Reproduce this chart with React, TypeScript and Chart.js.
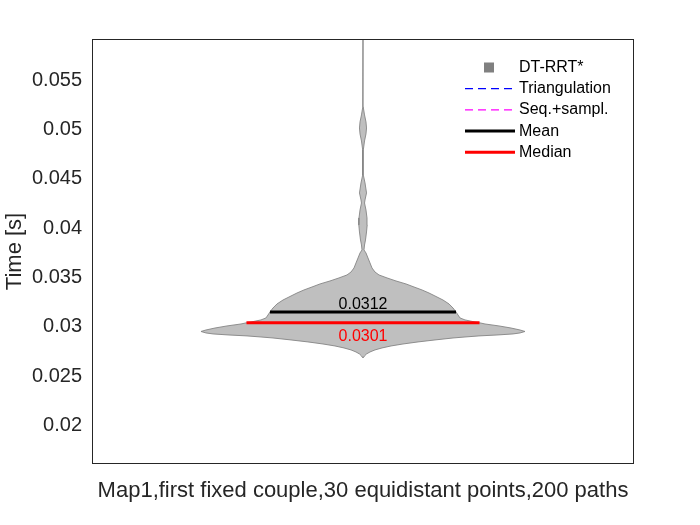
import React, { useEffect, useRef } from 'react';
import { Chart, registerables } from 'chart.js';

Chart.register(...registerables);

const FONT = "'Liberation Sans', Arial, Helvetica, sans-serif";

// Violin profile (time value, half-width in x units), from top to bottom
const violinTimes = [
  0.0595, 0.05199, 0.05118, 0.05047, 0.04986, 0.04925, 0.04854, 0.04763,
  0.04509, 0.04428, 0.04327, 0.04256, 0.04225, 0.04154, 0.04073, 0.04002,
  0.03931, 0.0385, 0.03799, 0.03749, 0.03718, 0.03667, 0.03617, 0.03566,
  0.03525, 0.03495, 0.03465, 0.03434, 0.03404, 0.03373, 0.03343, 0.03312,
  0.03282, 0.03241, 0.03201, 0.0316, 0.0312, 0.03089, 0.03059, 0.03039,
  0.03018, 0.0301, 0.02998, 0.02978, 0.02957, 0.02937, 0.02922, 0.02907,
  0.02897, 0.02887, 0.02877, 0.02866, 0.02856, 0.02836, 0.02816, 0.02795,
  0.02775, 0.02755, 0.02735, 0.02714, 0.02694, 0.02674, 0.02653,
];
const violinHalfWidths = [
  0, 0.0004, 0.0028, 0.0055, 0.0065, 0.0055, 0.0028, 0.0006,
  0.0006, 0.0037, 0.0065, 0.0037, 0.0028, 0.0055, 0.0074, 0.0077,
  0.0065, 0.0046, 0.0028, 0.0018, 0.0055, 0.0092, 0.0129, 0.0166,
  0.0221, 0.0295, 0.0443, 0.0609, 0.0793, 0.0941, 0.1089, 0.1218,
  0.1328, 0.1476, 0.1587, 0.1661, 0.1716, 0.1753, 0.179, 0.1882,
  0.2066, 0.215, 0.2251, 0.2509, 0.2731, 0.2897, 0.2989, 0.2897,
  0.2768, 0.2491, 0.214, 0.1882, 0.1661, 0.1328, 0.1015, 0.0738,
  0.0517, 0.0351, 0.0221, 0.0129, 0.0065, 0.0028, 0,
];
const violinCenter = 1;

const meanValue = 0.0312;
const meanHalfWidth = 0.1716;
const meanLabel = '0.0312';
const medianValue = 0.0301;
const medianHalfWidth = 0.215;
const medianLabel = '0.0301';

const yTickValues = [0.02, 0.025, 0.03, 0.035, 0.04, 0.045, 0.05, 0.055];
const yTickLabels = ['0.02', '0.025', '0.03', '0.035', '0.04', '0.045', '0.05', '0.055'];
const yMin = 0.01578;
const yMax = 0.05888;
const xMin = 0.5;
const xMax = 1.5;

const xTitle = 'Map1,first fixed couple,30 equidistant points,200 paths';
const yTitle = 'Time [s]';

const legendLabels = ['DT-RRT*', 'Triangulation', 'Seq.+sampl.', 'Mean', 'Median'];
const legendColors = ['#808080', '#0000FF', '#FF00FF', '#000000', '#FF0000'];
const legendKinds = ['marker', 'dashed', 'dashed', 'solid', 'solid'];

const bgPlugin = {
  id: 'bg',
  beforeDraw(chart: any) {
    const { ctx, width, height } = chart;
    ctx.save();
    ctx.fillStyle = '#ffffff';
    ctx.fillRect(0, 0, width, height);
    ctx.restore();
  },
};

const boxPlugin = {
  id: 'box',
  afterDatasetsDraw(chart: any) {
    const { ctx, chartArea } = chart;
    const { left, top, right, bottom } = chartArea;
    ctx.save();
    ctx.strokeStyle = '#262626';
    ctx.lineWidth = 1;
    ctx.strokeRect(Math.round(left) + 0.5, Math.round(top) + 0.5, Math.round(right - left) - 1, Math.round(bottom - top) - 1);
    ctx.restore();
  },
};

const statLabelPlugin = {
  id: 'statLabels',
  afterDatasetsDraw(chart: any) {
    const { ctx } = chart;
    const x = chart.scales.x;
    const y = chart.scales.y;
    const cx = x.getPixelForValue(violinCenter);
    ctx.save();
    ctx.font = `16px ${FONT}`;
    ctx.textAlign = 'center';
    ctx.textBaseline = 'alphabetic';
    ctx.fillStyle = '#000000';
    ctx.fillText(meanLabel, cx, y.getPixelForValue(meanValue) - 2.5);
    ctx.fillStyle = '#FF0000';
    ctx.fillText(medianLabel, cx, y.getPixelForValue(medianValue) + 18);
    ctx.restore();
  },
};

const legendPlugin = {
  id: 'matlabLegend',
  afterDraw(chart: any) {
    const { ctx, chartArea } = chart;
    const lineStart = chartArea.right - 169;
    const lineEnd = lineStart + 50;
    const markerX = chartArea.right - 145;
    const textX = chartArea.right - 115;
    const y0 = chartArea.top + 28.5;
    const dy = 21.2;
    ctx.save();
    ctx.font = `16px ${FONT}`;
    ctx.textAlign = 'left';
    ctx.textBaseline = 'middle';
    legendLabels.forEach((label, i) => {
      const yy = y0 + i * dy;
      const kind = legendKinds[i];
      const color = legendColors[i];
      if (kind === 'marker') {
        ctx.fillStyle = color;
        ctx.fillRect(markerX - 5, yy - 5, 10, 10);
      } else {
        ctx.beginPath();
        ctx.strokeStyle = color;
        if (kind === 'dashed') {
          ctx.lineWidth = 1.25;
          ctx.setLineDash([8, 5]);
        } else {
          ctx.lineWidth = 3;
          ctx.setLineDash([]);
        }
        ctx.moveTo(lineStart, yy);
        ctx.lineTo(lineEnd, yy);
        ctx.stroke();
        ctx.setLineDash([]);
      }
      ctx.fillStyle = '#000000';
      ctx.fillText(label, textX, yy);
    });
    ctx.restore();
  },
};

export default function App() {
  const canvasRef = useRef<HTMLCanvasElement | null>(null);

  useEffect(() => {
    document.body.style.margin = '0';
    const canvas = canvasRef.current;
    if (!canvas) return;

    const leftSide = violinTimes.map((t, i) => ({ x: violinCenter - violinHalfWidths[i], y: t }));
    const rightSide = violinTimes
      .map((t, i) => ({ x: violinCenter + violinHalfWidths[i], y: t }))
      .reverse();

    const chart = new Chart(canvas, {
      type: 'line',
      data: {
        datasets: [
          {
            label: 'Mean',
            data: [
              { x: violinCenter - meanHalfWidth, y: meanValue },
              { x: violinCenter + meanHalfWidth, y: meanValue },
            ],
            borderColor: '#000000',
            borderWidth: 3,
            pointRadius: 0,
            fill: false,
            order: 1,
          },
          {
            label: 'Median',
            data: [
              { x: violinCenter - medianHalfWidth, y: medianValue },
              { x: violinCenter + medianHalfWidth, y: medianValue },
            ],
            borderColor: '#FF0000',
            borderWidth: 3,
            pointRadius: 0,
            fill: false,
            order: 2,
          },
          {
            label: 'DT-RRT*',
            data: [...leftSide, ...rightSide],
            borderColor: '#858585',
            backgroundColor: '#BFBFBF',
            borderWidth: 0.9,
            pointRadius: 0,
            tension: 0,
            fill: 'shape',
            order: 3,
          },
        ],
      },
      options: {
        animation: false,
        responsive: false,
        maintainAspectRatio: false,
        events: [],
        layout: { padding: { left: 0, top: 39, right: 66, bottom: 0 } },
        plugins: {
          legend: { display: false },
          tooltip: { enabled: false },
        },
        scales: {
          x: {
            type: 'linear',
            min: xMin,
            max: xMax,
            grid: { display: false, drawTicks: false },
            border: { display: false },
            ticks: { display: false },
            title: {
              display: true,
              text: xTitle,
              color: '#262626',
              font: { family: FONT, size: 22 },
              padding: { top: 0, bottom: 21 },
            },
            afterFit: (s: any) => {
              s.height = 61;
            },
          },
          y: {
            type: 'linear',
            min: yMin,
            max: yMax,
            grid: { display: false, drawTicks: false },
            border: { display: false },
            ticks: {
              color: '#262626',
              font: { family: FONT, size: 20 },
              padding: 10,
              labelOffset: 3,
              autoSkip: false,
              callback: (_v: any, index: number) => yTickLabels[index],
            },
            afterBuildTicks: (s: any) => {
              s.ticks = yTickValues.map((v) => ({ value: v }));
            },
            title: {
              display: true,
              text: yTitle,
              color: '#262626',
              font: { family: FONT, size: 22 },
              padding: { top: 2, bottom: 0 },
            },
            afterFit: (s: any) => {
              s.width = 92;
            },
          },
        },
      },
      plugins: [bgPlugin, boxPlugin, statLabelPlugin, legendPlugin],
    } as any);

    return () => {
      chart.destroy();
    };
  }, []);

  return (
    <div style={{ width: 700, height: 525 }}>
      <canvas ref={canvasRef} width={700} height={525} />
    </div>
  );
}
